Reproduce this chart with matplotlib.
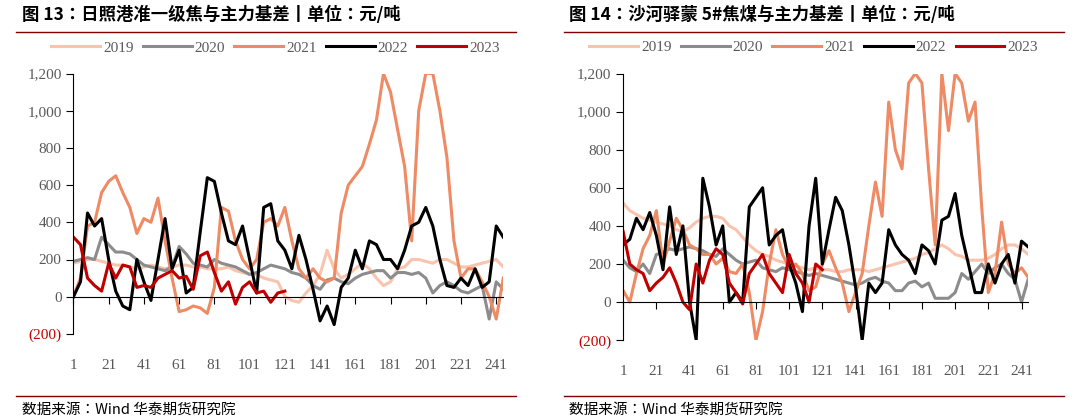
import matplotlib
matplotlib.use("Agg")
import matplotlib.pyplot as plt
import numpy as np
from matplotlib.ticker import FuncFormatter

years = ["2019", "2020", "2021", "2022", "2023"]
colors = ["#F9C4AE", "#8C8C8C", "#EE8A64", "#000000", "#C00000"]
xticks = [1, 21, 41, 61, 81, 101, 121, 141, 161, 181, 201, 221, 241]
titles = ["图 13：日照港准一级焦与主力基差丨单位：元/吨", "图 14：沙河驿蒙 5#焦煤与主力基差丨单位：元/吨"]
source = "数据来源：Wind 华泰期货研究院"
day_step = 4  # sampling interval of the listed values (trading day index)

L2019 = [180,190,200,200,190,180,170,170,160,150,160,170,160,150,160,170,170,160,160,150,150,150,160,140,130,120,120,100,90,80,0,-20,-30,20,60,120,250,150,100,120,150,180,150,100,60,80,150,160,200,200,190,180,200,200,180,160,160,170,180,190,200,160]
L2020 = [190,200,210,200,320,280,240,240,230,200,170,160,150,140,160,270,230,180,170,160,200,180,170,160,140,120,130,150,170,160,150,130,120,100,60,40,90,100,80,70,100,120,130,140,140,100,130,130,120,130,100,20,60,80,60,30,20,40,60,-120,80,40]
L2021 = [0,100,380,400,560,620,650,560,480,340,420,400,530,300,100,-80,-70,-50,-60,-90,50,480,460,300,200,150,200,400,420,380,480,300,150,100,150,100,80,100,450,600,650,700,820,950,1200,1100,900,700,300,1000,1200,1200,1000,750,300,100,150,150,80,0,-120,100]
L2022 = [0,80,450,380,420,200,30,-50,-70,200,80,-20,200,420,150,250,20,50,350,640,620,450,300,280,380,200,20,480,500,300,250,150,330,200,40,-130,-50,-150,50,100,250,150,300,280,200,200,150,250,380,400,480,380,200,60,50,100,60,150,50,80,380,320]
L2023 = [320,280,100,60,30,180,100,170,160,50,60,50,100,120,140,100,110,40,220,240,130,30,80,-40,50,80,20,30,-30,20,30]

R2019 = [520,480,460,440,430,420,410,400,380,370,390,420,440,450,450,440,400,380,340,300,270,250,240,220,210,200,190,180,170,180,170,170,160,160,170,170,170,160,170,180,190,200,210,220,230,250,260,280,300,280,250,240,220,220,220,230,250,280,300,300,280,250]
R2020 = [220,180,160,200,150,250,260,280,270,280,290,280,270,250,240,280,250,220,200,210,220,180,170,160,180,170,160,150,140,150,140,130,120,110,100,90,100,120,130,110,100,60,60,100,110,80,100,20,20,20,50,150,120,160,200,150,180,200,150,120,0,120]
R2021 = [60,0,150,280,350,480,200,320,440,380,300,280,250,250,200,230,160,150,200,50,-200,-50,200,380,250,180,200,150,60,80,200,270,180,100,-50,50,150,400,630,450,1050,800,700,1150,1200,1150,700,300,1200,900,1200,1150,950,1050,500,50,150,420,200,150,180,130]
R2022 = [300,330,440,380,470,350,170,500,250,400,0,-200,650,500,300,400,0,50,0,500,550,600,300,350,380,200,100,-50,400,650,200,380,550,480,300,80,-200,100,50,100,380,300,250,220,150,300,270,200,430,450,570,350,200,50,50,200,100,200,250,100,320,290]
R2023 = [370,200,170,150,60,100,130,180,100,0,-40,200,100,220,280,250,100,50,-10,150,200,250,150,100,50,250,150,100,0,200,170]

panels = [[L2019, L2020, L2021, L2022, L2023], [R2019, R2020, R2021, R2022, R2023]]

def fmt(v, pos):
    v = int(round(v))
    return f"({abs(v):,})" if v < 0 else f"{v:,}"

fig = plt.figure(figsize=(10.8, 4.2), dpi=100)
serif = "Liberation Serif"
cjk = ["Noto Sans CJK SC", "Noto Sans CJK JP", "Noto Sans CJK TC", "Noto Sans CJK KR", "DejaVu Sans"]
axes_rects = [(0.068, 0.205, 0.398, 0.62), (0.577, 0.19, 0.375, 0.635)]
for p, (rect, series) in enumerate(zip(axes_rects, panels)):
    ax = fig.add_axes(rect)
    for name, col, vals in zip(years, colors, series):
        x = 1 + day_step * np.arange(len(vals))
        ax.plot(x, vals, color=col, lw=2.2, label=name)
    ax.set_xlim(1, 245)
    ax.set_ylim(-200, 1200)
    ax.set_yticks(range(-200, 1201, 200))
    ax.yaxis.set_major_formatter(FuncFormatter(fmt))
    ax.spines["top"].set_visible(False)
    ax.spines["right"].set_visible(False)
    ax.spines["bottom"].set_position(("data", 0))
    ax.spines["left"].set_position(("data", 1))
    ax.set_xticks(xticks)
    ax.tick_params(axis="x", direction="out", length=5, pad=40, labelsize=11, labelcolor="#595959")
    ax.tick_params(axis="y", direction="out", length=5, labelsize=11, labelcolor="#595959")
    for t in ax.get_xticklabels() + ax.get_yticklabels():
        t.set_fontfamily(serif)
    for t in ax.get_yticklabels():
        if t.get_text().startswith("("):
            t.set_color("#C00000")
    leg = ax.legend(loc="lower center", bbox_to_anchor=(0.47, 1.02), ncol=5, frameon=False,
                    prop={"family": serif, "size": 11}, handlelength=3.2, columnspacing=0.6, handletextpad=0.2)
    for t in leg.get_texts():
        t.set_color("#595959")
    x0 = 0.015 if p == 0 else 0.522
    x1 = 0.478 if p == 0 else 0.985
    fig.text(x0 + 0.005, 0.965, titles[p], fontfamily=cjk, fontweight="bold", fontsize=12.5, va="center")
    fig.add_artist(plt.Line2D([x0, x1], [0.925, 0.925], color="#7F0000", lw=1))
    fig.add_artist(plt.Line2D([x0, x1], [0.058, 0.058], color="#7F0000", lw=1))
    fig.text(x0 + 0.005, 0.025, source, fontfamily=cjk, fontsize=10.5, va="center")

fig.savefig("out.png", dpi=100)
